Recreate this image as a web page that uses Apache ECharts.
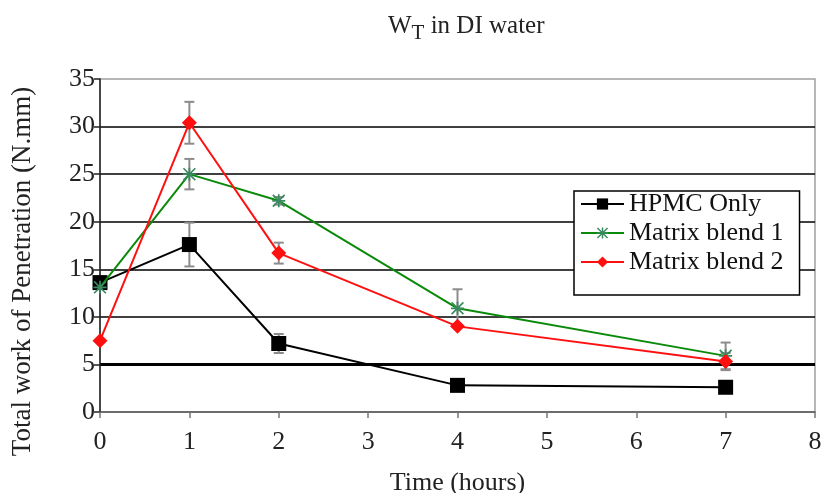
<!DOCTYPE html>
<html><head><meta charset="utf-8">
<script src="https://cdn.jsdelivr.net/npm/echarts@6/dist/echarts.min.js"></script>
<style>html,body{margin:0;padding:0;background:#fff}#c{width:824px;height:493px}</style>
</head><body><div id="c"></div>
<script>
const times = [0, 1, 2, 4, 7];
const hpmc = [13.6, 17.6, 7.2, 2.8, 2.6];
const hpmcErr = [0, 2.3, 1.0, 0, 0];
const blend1 = [13.1, 25.0, 22.2, 10.9, 5.9];
const blend1Err = [0, 1.6, 0.4, 2.0, 1.4];
const blend2 = [7.5, 30.4, 16.7, 9.0, 5.3];
const blend2Err = [0, 2.2, 1.1, 0, 0.9];
const gridLines = [10, 15, 20, 25, 30];
const thickLine = 5;

const FONT = '"Liberation Serif", "DejaVu Serif", serif';
const FS = 26;
const starPath = 'path://M5.2,0H6.8V12H5.2Z M0,5.2H12V6.8H0Z M0,1.1L1.1,0L12,10.9L10.9,12Z M10.9,0L12,1.1L1.1,12L0,10.9Z';

function pts(vals){ return times.map((t,i)=>[t, vals[i]]); }
function errData(vals, errs){ return times.map((t,i)=>[t, vals[i]-errs[i], vals[i]+errs[i], errs[i]]).filter(d=>d[3]>0); }

function errSeries(vals, errs){
  return {
    type: 'custom', silent: true, z: 1,
    data: errData(vals, errs),
    encode: {x: 0, y: [1, 2]},
    renderItem: function(params, api){
      const x = api.value(0);
      const lo = api.coord([x, api.value(1)]);
      const hi = api.coord([x, api.value(2)]);
      const w = 5;
      const st = {stroke: '#8c8c8c', lineWidth: 2};
      return {type: 'group', children: [
        {type: 'line', shape: {x1: lo[0], y1: lo[1], x2: hi[0], y2: hi[1]}, style: st},
        {type: 'line', shape: {x1: lo[0]-w, y1: lo[1], x2: lo[0]+w, y2: lo[1]}, style: st},
        {type: 'line', shape: {x1: hi[0]-w, y1: hi[1], x2: hi[0]+w, y2: hi[1]}, style: st}
      ]};
    }
  };
}

const chart = echarts.init(document.getElementById('c'));
chart.setOption({
  animation: false,
  backgroundColor: '#fff',
  title: {
    text: '{a|W}{b|T}{a| in DI water}',
    left: 383, top: 4,
    textStyle: {
      fontFamily: FONT, color: '#222', fontWeight: 'normal',
      rich: {
        a: {fontFamily: FONT, fontSize: 25, color: '#222'},
        b: {fontFamily: FONT, fontSize: 21, color: '#222', padding: [14, 0, 0, 0]}
      }
    }
  },
  grid: {left: 100, right: 9, top: 79, bottom: 81, show: true, borderColor: '#a0a0a0', borderWidth: 1.5,
         containLabel: false, outerBoundsMode: 'none'},
  legend: {
    left: 574, top: 191, orient: 'vertical',
    borderColor: '#000', borderWidth: 1.5, backgroundColor: '#fff',
    padding: [0, 16, 20, 6], itemGap: 3, itemWidth: 43, itemHeight: 14,
    textStyle: {fontFamily: FONT, fontSize: FS, color: '#111', lineHeight: 26},
    data: ['HPMC Only', 'Matrix blend 1', 'Matrix blend 2']
  },
  xAxis: {
    type: 'value', min: 0, max: 8, interval: 1,
    name: 'Time (hours)', nameLocation: 'middle', nameGap: 58,
    nameTextStyle: {fontFamily: FONT, fontSize: FS, color: '#222'},
    axisLine: {lineStyle: {color: '#555', width: 1.5}},
    axisTick: {show: true, length: 6, lineStyle: {color: '#777', width: 1.5}},
    axisLabel: {fontFamily: FONT, fontSize: FS, color: '#222', margin: 17},
    splitLine: {show: false}
  },
  yAxis: {
    type: 'value', min: 0, max: 35, interval: 5,
    name: 'Total work of Penetration (N.mm)', nameLocation: 'middle', nameGap: 64,
    nameTextStyle: {fontFamily: FONT, fontSize: 27, color: '#222', padding: [0, 52, 0, 0]},
    axisLine: {show: true, lineStyle: {color: '#222', width: 1.5}},
    axisTick: {show: true, length: 6, lineStyle: {color: '#222', width: 1.5}},
    axisLabel: {fontFamily: FONT, fontSize: FS, color: '#222', margin: 5},
    splitLine: {show: false}
  },
  series: [
    errSeries(hpmc, hpmcErr),
    errSeries(blend1, blend1Err),
    errSeries(blend2, blend2Err),
    {
      name: 'HPMC Only', type: 'line', data: pts(hpmc), z: 3,
      symbol: 'rect', symbolSize: 15,
      lineStyle: {color: '#000', width: 2}, itemStyle: {color: '#000'},
      markLine: {
        silent: true, symbol: 'none', label: {show: false}, z: 0,
        data: gridLines.map(v => ({yAxis: v, lineStyle: {color: '#000', width: 1.7, type: 'solid'}}))
          .concat([{yAxis: thickLine, lineStyle: {color: '#000', width: 3, type: 'solid'}}])
      }
    },
    {
      name: 'Matrix blend 1', type: 'line', data: pts(blend1), z: 4,
      symbol: starPath, symbolSize: 13,
      lineStyle: {color: '#0a8a0a', width: 2}, itemStyle: {color: '#3a8a60'}
    },
    {
      name: 'Matrix blend 2', type: 'line', data: pts(blend2), z: 5,
      symbol: 'diamond', symbolSize: 15,
      lineStyle: {color: '#ff1010', width: 2}, itemStyle: {color: '#ff1010'}
    }
  ]
});
</script>
</body></html>
